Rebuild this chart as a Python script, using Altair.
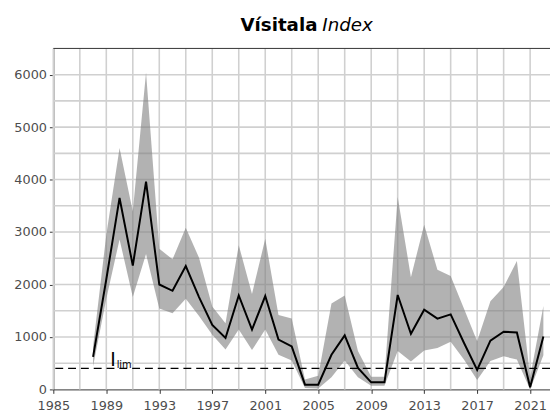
import altair as alt
import pandas as pd

years = list(range(1988, 2023))
index_vals = [620, 2100, 3650, 2360, 3960, 2000, 1880, 2350, 1760, 1230,
              980, 1790, 1140, 1780, 950, 820, 90, 90, 660, 1030,
              410, 135, 135, 1800, 1060, 1520, 1350, 1430, 890, 370,
              930, 1100, 1085, 40, 1010]
upper_vals = [820, 2950, 4600, 3390, 6040, 2680, 2480, 3080, 2510, 1580,
              1260, 2750, 1820, 2870, 1420, 1350, 190, 260, 1640, 1790,
              730, 240, 240, 3670, 2140, 3140, 2280, 2160, 1540, 920,
              1680, 1950, 2450, 230, 1590]
lower_vals = [440, 1730, 2860, 1760, 2580, 1540, 1450, 1730, 1400, 1040,
              760, 1140, 750, 1140, 660, 550, 25, 15, 230, 550,
              230, 70, 70, 730, 530, 740, 790, 910, 570, 180,
              540, 630, 570, 0, 650]
ilim = 400
x_ticks = list(range(1985, 2022, 4))
y_ticks = list(range(0, 6001, 1000))
x_grid = list(range(1985, 2022, 2))
y_grid = list(range(500, 6001, 500))

W, H = 504, 346
FONT = "DejaVu Sans"

df = pd.DataFrame({"year": years, "idx": index_vals, "lo": lower_vals, "hi": upper_vals})

xs = alt.Scale(domain=[1985, 2022.5], nice=False, zero=False)
ys = alt.Scale(domain=[0, 6500], nice=False)

xaxis = alt.Axis(values=x_ticks, format="d", grid=False, title=None,
                 labelFont=FONT, labelFontSize=13, labelColor="#4d4d4d",
                 domainColor="#333333", tickColor="#333333", tickSize=4,
                 labelPadding=6, labelFlush=False)
yaxis = alt.Axis(values=y_ticks, format="d", grid=False, title=None,
                 labelFont=FONT, labelFontSize=13, labelColor="#4d4d4d",
                 domainColor="#333333", tickColor="#333333", tickSize=4,
                 labelPadding=3)

vgrid = alt.Chart(pd.DataFrame({"g": x_grid})).mark_rule(color="#d0d0d0", strokeWidth=1.6).encode(
    x=alt.X("g:Q", scale=xs, axis=xaxis))
hgrid = alt.Chart(pd.DataFrame({"g": y_grid})).mark_rule(color="#d0d0d0", strokeWidth=1.6).encode(
    y=alt.Y("g:Q", scale=ys, axis=yaxis))

band = alt.Chart(df).mark_area(color="#7f7f7f", opacity=0.6).encode(
    x=alt.X("year:Q", scale=xs), y=alt.Y("lo:Q", scale=ys), y2="hi:Q")

line = alt.Chart(df).mark_line(color="black", strokeWidth=2).encode(
    x=alt.X("year:Q", scale=xs), y=alt.Y("idx:Q", scale=ys))

dash = alt.Chart(pd.DataFrame({"v": [ilim]})).mark_rule(color="black", strokeWidth=1.3, strokeDash=[8, 5]).encode(
    y=alt.Y("v:Q", scale=ys))

lab_I = alt.Chart(pd.DataFrame({"x": [1989.3], "y": [440], "t": ["I"]})).mark_text(
    font="Liberation Sans", fontSize=20, align="left", baseline="alphabetic", color="black").encode(
    x=alt.X("x:Q", scale=xs), y=alt.Y("y:Q", scale=ys), text="t:N")
lab_lim = alt.Chart(pd.DataFrame({"x": [1989.78], "y": [415], "t": ["lim"]})).mark_text(
    font=FONT, fontSize=10, align="left", baseline="alphabetic", color="black").encode(
    x=alt.X("x:Q", scale=xs), y=alt.Y("y:Q", scale=ys), text="t:N")

t1 = alt.Chart(alt.Data(values=[{}])).mark_text(
    font=FONT, fontSize=18.5, fontWeight="bold", align="right", baseline="alphabetic", color="black").encode(
    x=alt.value(268), y=alt.value(-18), text=alt.value("Vísitala"))
t2 = alt.Chart(alt.Data(values=[{}])).mark_text(
    font=FONT, fontSize=18.5, fontStyle="italic", align="left", baseline="alphabetic", color="black").encode(
    x=alt.value(273), y=alt.value(-18), text=alt.value("Index"))

top = alt.Chart(alt.Data(values=[{}])).mark_rule(color="#333333", strokeWidth=1).encode(
    x=alt.value(0), x2=alt.value(W), y=alt.value(0))

chart = alt.layer(vgrid, hgrid, band, dash, line, lab_I, lab_lim, t1, t2, top).properties(
    width=W, height=H,
    autosize=alt.AutoSizeParams(type="none"),
    padding={"left": 46, "top": 38, "right": 0, "bottom": 27},
    background="white",
).configure_view(stroke=None)

chart.save("out.html", embed_options={"renderer": "svg", "actions": False})
